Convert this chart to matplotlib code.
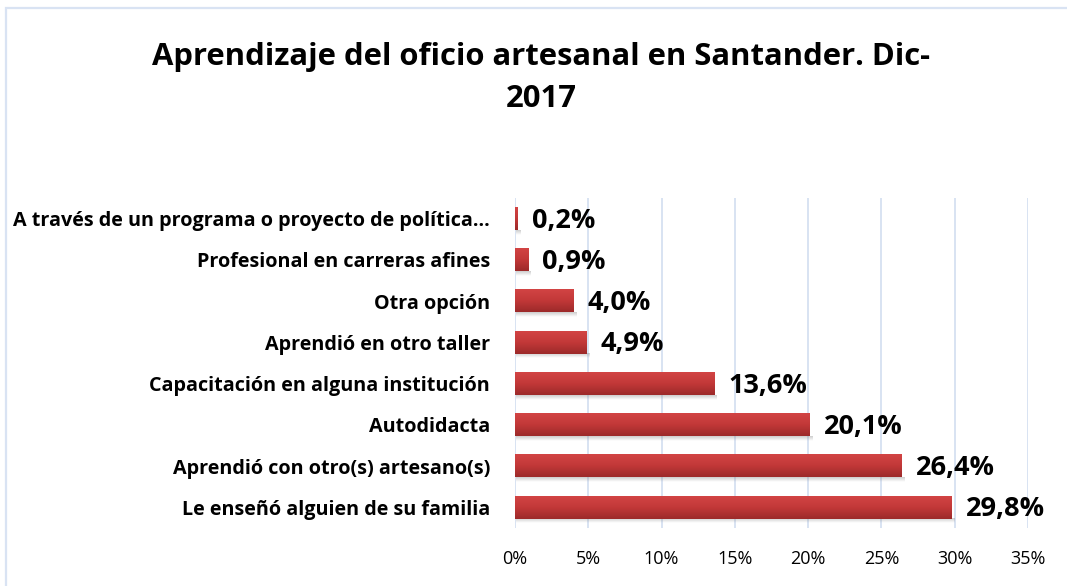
import matplotlib.pyplot as plt
import matplotlib
import numpy as np
from matplotlib.colors import LinearSegmentedColormap
from matplotlib.patches import Rectangle

categories = [
    "Le enseñó alguien de su familia",
    "Aprendió con otro(s) artesano(s)",
    "Autodidacta",
    "Capacitación en alguna institución",
    "Aprendió en otro taller",
    "Otra opción",
    "Profesional en carreras afines",
    "A través de un programa o proyecto de política…",
]
values = [29.8, 26.4, 20.1, 13.6, 4.9, 4.0, 0.9, 0.2]
value_labels = ["29,8%", "26,4%", "20,1%", "13,6%", "4,9%", "4,0%", "0,9%", "0,2%"]
xticks = [0, 5, 10, 15, 20, 25, 30, 35]
xtick_labels = ["0%", "5%", "10%", "15%", "20%", "25%", "30%", "35%"]
title = "Aprendizaje del oficio artesanal en Santander. Dic-\n2017"


def main():
    matplotlib.rc("font", family=["Open Sans", "DejaVu Sans"])

    W, H = 1067, 586
    fig = plt.figure(figsize=(W / 100, H / 100), dpi=100)
    ax = fig.add_axes([515 / W, 1 - 528 / H, (1028 - 515) / W, (528 - 198) / H])

    # frame around the chart area
    fig.patches.append(Rectangle((6 / W, -0.01), 1.05, 1 - 8 / H + 0.01,
                                 transform=fig.transFigure, fill=False,
                                 ec="#d9e3f3", lw=1.6))

    bar_h = 0.54
    red = LinearSegmentedColormap.from_list("red", ["#9c2a2a", "#c23838", "#d24444"])
    grad = np.linspace(0, 1, 64).reshape(-1, 1)
    shadow = np.zeros((16, 1, 4))
    shadow[..., :3] = 0.45
    shadow[:, 0, 3] = np.linspace(0.0, 0.35, 16)

    y = np.arange(len(categories))
    for yi, v, lab in zip(y, values, value_labels):
        # soft shadow under the bar
        ax.imshow(shadow, extent=[0.05, v + 0.15, yi - bar_h / 2 - 0.12, yi - bar_h / 2],
                  origin="lower", aspect="auto", zorder=2)
        ax.imshow(grad, extent=[0, v, yi - bar_h / 2, yi + bar_h / 2], cmap=red,
                  origin="lower", aspect="auto", zorder=3)
        ax.text(v + 0.95, yi - 0.05, lab, ha="left", va="center",
                fontsize=19.5, fontweight="bold", color="black")

    ax.set_xlim(0, 35)
    ax.set_ylim(-0.5, len(categories) - 0.5)
    ax.set_xticks(xticks)
    ax.set_xticklabels(xtick_labels, fontsize=13)
    ax.set_yticks(y)
    ax.set_yticklabels(categories, fontsize=14.2, fontweight="bold")
    ax.tick_params(axis="both", length=0)
    ax.tick_params(axis="x", pad=16)
    ax.tick_params(axis="y", pad=18)
    for s in ax.spines.values():
        s.set_visible(False)
    ax.grid(axis="x", color="#d6e0f1", lw=1.3)
    ax.set_axisbelow(True)

    fig.text(541 / W, 1 - 78 / H, title, ha="center", va="center",
             fontsize=22.3, fontweight="bold", linespacing=1.55)
    return fig, ax


if __name__ == "__main__":
    fig, ax = main()
    plt.savefig("out.png", dpi=100)
